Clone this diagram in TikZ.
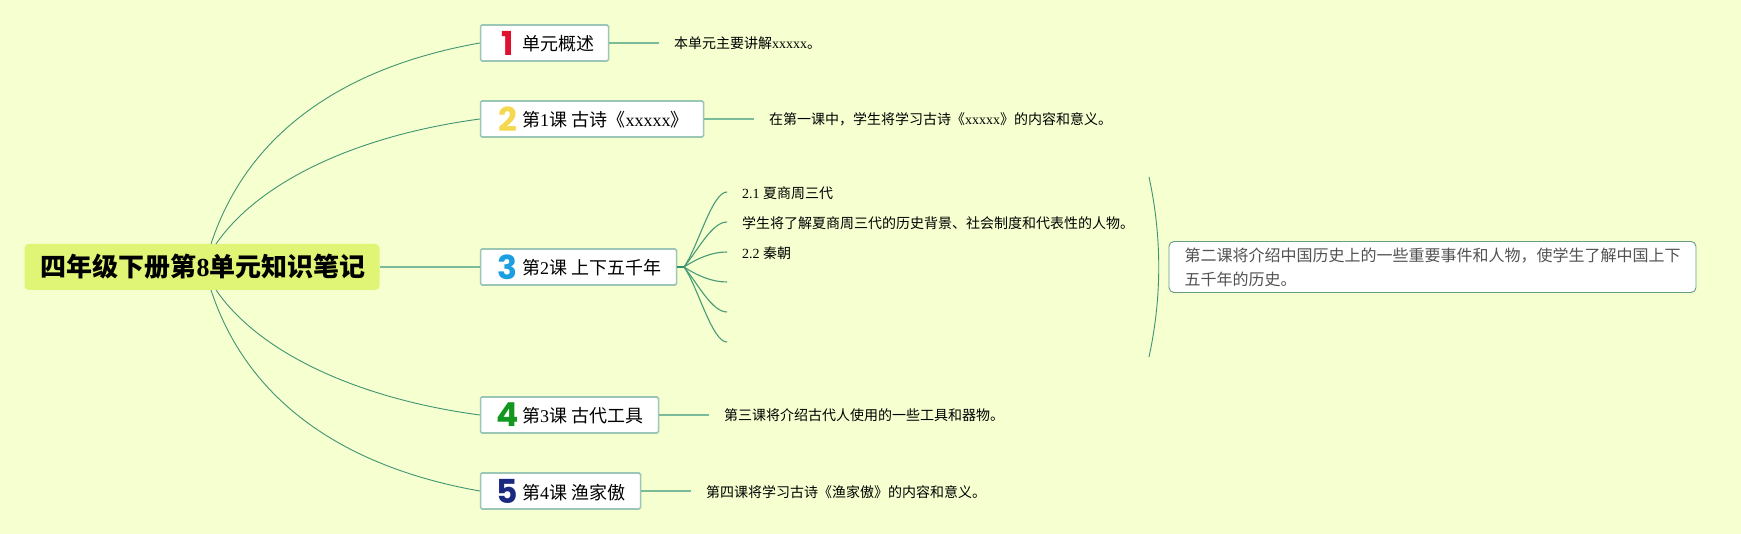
\documentclass[tikz,border=0pt]{standalone}
\usepackage{fontspec}
\setmainfont{Noto Sans CJK SC}
\newfontfamily\ltn{Liberation Serif}
\newfontfamily\numfont{Poppins}
\usepackage{tikz}
\usetikzlibrary{calc}

\definecolor{bgcol}{HTML}{F6FFD0}
\definecolor{rootcol}{HTML}{E0F575}
\definecolor{boxline}{HTML}{9CC7B6}
\definecolor{thickline}{HTML}{7ABB9A}
\definecolor{thinline}{HTML}{3F9472}
\definecolor{stubline}{HTML}{2F8F6B}
\definecolor{noteline}{HTML}{659C86}
\definecolor{numa}{HTML}{E0112F}
\definecolor{numb}{HTML}{F5D84E}
\definecolor{numc}{HTML}{1B9FE0}
\definecolor{numd}{HTML}{12981E}
\definecolor{nume}{HTML}{1B2A80}

\tikzset{
    rootbox/.style={fill=rootcol,rounded corners=4pt,minimum width=355pt,minimum height=46pt,inner sep=0,
        font=\fontsize{26}{26}\selectfont\bfseries},
    lessonbox/.style={draw=boxline,line width=1.6pt,fill=white,rounded corners=1.5pt,anchor=west,minimum height=36pt,inner sep=0},
    lessonnum/.style={inner sep=0,font=\fontsize{33}{33}\numfont\bfseries},
    lessonlabel/.style={anchor=base west,inner sep=0,font=\fontsize{18}{18}\selectfont},
    leaftext/.style={anchor=base west,inner sep=0,font=\fontsize{14}{14}\selectfont},
    notebox/.style={draw=noteline,line width=0.9pt,fill=white,rounded corners=5pt,minimum width=527pt,minimum height=51pt,inner sep=0},
    thickedge/.style={thickline,line width=1.6pt},
    thinedge/.style={thinline,line width=0.9pt},
    fanedge/.style={thinline!85!thickline,line width=1.1pt},
    stubedge/.style={stubline,line width=2.4pt}
}

\begin{document}
\begin{tikzpicture}[x=1pt,y=-1pt]
        \useasboundingbox (0,0) rectangle (1741,534);
        \fill[bgcol] (0,0) rectangle (1741,534);

        \coordinate (ra) at (211,244);
        \coordinate (rb) at (216,244);
        \coordinate (rd) at (216,290);
        \coordinate (re) at (211,290);
        \coordinate (fan) at (684,267);
        \coordinate (arca) at (1149,177);
        \coordinate (arcb) at (1149,357);

        % Nodes
        \node[rootbox] (root) at (202,267) {\hspace{2pt}四年级下册第{\ltn 8}单元知识笔记};

        \foreach \i/\y/\w/\c/\t in {
            1/43/128/numa/{单元概述},
            2/119/223/numb/{第{\ltn 1}课{\ltn\ }古诗《{\ltn xxxxx}》},
            3/267/196/numc/{第{\ltn 2}课{\ltn\ }上下五千年},
            4/415/178/numd/{第{\ltn 3}课{\ltn\ }古代工具},
            5/491/160/nume/{第{\ltn 4}课{\ltn\ }渔家傲}} {
            \node[lessonbox,minimum width=\w pt] (box\i) at (479.8,\y) {};
            \node[lessonnum,text=\c] (num\i) at (507.5,\y) {\i};
            \node[lessonlabel] (label\i) at (522,\y+8) {\t};
        }

        \foreach \i/\x/\y/\t in {
            1/674/49/{本单元主要讲解{\ltn xxxxx}。},
            2/769/125/{在第一课中，学生将学习古诗《{\ltn xxxxx}》的内容和意义。},
            4/724/421/{第三课将介绍古代人使用的一些工具和器物。},
            5/706/497/{第四课将学习古诗《渔家傲》的内容和意义。}} {
            \node[leaftext] (leaf\i) at (\x,\y) {\t};
            \coordinate (end\i) at ($(leaf\i.west)+(-15,0)$);
        }

        \node[leaftext] (suba) at (742,199) {{\ltn 2.1 }夏商周三代};
        \node[leaftext] (subb) at (742,229) {学生将了解夏商周三代的历史背景、社会制度和代表性的人物。};
        \node[leaftext] (subc) at (742,259) {{\ltn 2.2 }秦朝};

        \node[notebox] (note) at (1432.5,267) {};
        \node[anchor=west,inner sep=0,align=left,text=black!68,font=\fontsize{16}{24}\selectfont] (notetext) at (1184.5,267)
            {第二课将介绍中国历史上的一些重要事件和人物，使学生了解中国上下\\五千年的历史。};

        % Edges
        \draw[thickedge] (root.east) -- (box3.west);

        \foreach \i in {1,2,4,5} {
            \draw[thickedge] (box\i.east) -- (end\i |- box\i.east);
        }

        \draw[thinedge] (ra) .. controls (250,125) and (355,65) .. (box1.west);
        \draw[thinedge] (rb) .. controls (260,180) and (360,135) .. (box2.west);
        \draw[thinedge] (rd) .. controls (260,354) and (360,399) .. (box4.west);
        \draw[thinedge] (re) .. controls (250,409) and (355,469) .. (box5.west);

        \foreach \y/\k in {192/247, 222/250, 252/258, 282/276, 312/284, 342/287} {
            \coordinate (twig\y) at (727,\y);
            \draw[fanedge] (fan) .. controls (698,\k) and (712,\y) .. (twig\y);
        }
        \draw[stubedge] (box3.east) -- (fan);

        \draw[thinedge] (arca) .. controls (1162,237) and (1162,297) .. (arcb);
    \end{tikzpicture}
\end{document}
